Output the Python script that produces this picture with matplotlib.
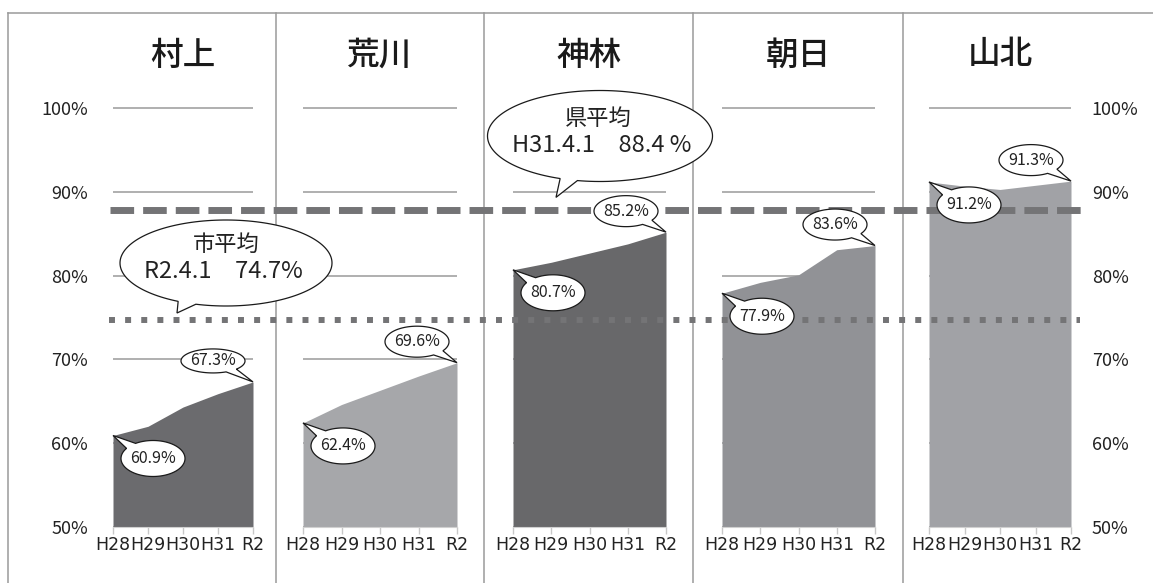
import numpy as np
import matplotlib
matplotlib.use('Agg')
import matplotlib.pyplot as plt
from matplotlib.patches import Polygon

plt.rcParams['font.family'] = ['Noto Sans CJK JP', 'DejaVu Sans']

# data
areas = ['村上', '荒川', '神林', '朝日', '山北']
years = ['H28', 'H29', 'H30', 'H31', 'R2']
murakami = [60.9, 62.0, 64.3, 65.9, 67.3]
arakawa = [62.4, 64.6, 66.3, 68.0, 69.6]
kamihayashi = [80.7, 81.6, 82.7, 83.8, 85.2]
asahi = [77.9, 79.2, 80.1, 83.1, 83.6]
sanpoku = [91.2, 90.7, 90.3, 90.8, 91.3]
series = [murakami, arakawa, kamihayashi, asahi, sanpoku]
yticks = [50, 60, 70, 80, 90, 100]
ylabels = ['50%', '60%', '70%', '80%', '90%', '100%']
city_avg = 74.7       # 市平均 R2.4.1
pref_avg = 88.4       # 県平均 H31.4.1 (label)
pref_line = 87.8      # where the dashed line sits in the picture

colors = ['#6b6b6e', '#a6a7aa', '#68686a', '#919296', '#a1a2a6']

W, H = 1153, 583
fig = plt.figure(figsize=(W / 100, H / 100), dpi=100)

# background frame
bg = fig.add_axes([0, 0, 1, 1], zorder=0)
bg.set_xlim(0, W)
bg.set_ylim(H, 0)
bg.axis('off')
bg.plot([8, W], [13, 13], color='#9a9a9a', lw=1.1)
for xd in [8, 276, 484, 693, 903]:
    bg.plot([xd, xd], [13, H], color='#9a9a9a', lw=1.1)

# panels (pixel edges)
p_left = [113, 303, 513, 722, 929]
p_right = [253, 457, 666, 875, 1071]
y_base, y_top = 526.7, 108.3
px_per = (y_base - y_top) / 50.0
top_lim = 101

axes = []
for i in range(5):
    l, r = p_left[i], p_right[i]
    top_px = y_base - (top_lim - 50) * px_per
    ax = fig.add_axes([l / W, (H - y_base) / H, (r - l) / W, (y_base - top_px) / H], zorder=1)
    ax.set_facecolor('none')
    ax.fill_between(range(5), series[i], 50, color=colors[i], lw=0, zorder=2)
    ax.set_xlim(0, 4)
    ax.set_ylim(50, top_lim)
    ax.set_yticks(yticks)
    ax.set_yticklabels(ylabels, fontsize=13, color='#222222')
    ax.yaxis.grid(True, color='#9a9a9a', lw=1.1)
    ax.set_axisbelow(True)
    ax.set_xticks(range(5))
    ax.set_xticklabels(years, fontsize=12.5, color='#222222',
                       family=['Liberation Sans Narrow', 'DejaVu Sans'])
    ax.tick_params(axis='x', length=5, width=1, color='#c8c8c8', pad=2)
    for s in ['top', 'left', 'right']:
        ax.spines[s].set_visible(False)
    ax.spines['bottom'].set_color('#d0d0d0')
    if i == 0:
        ax.tick_params(axis='y', length=0, pad=18)
    elif i == 4:
        ax.yaxis.tick_right()
        ax.tick_params(axis='y', length=0, pad=15)
    else:
        ax.tick_params(axis='y', length=0, labelleft=False)
    fig.text((l + r) / 2 / W, 1 - 55 / H, areas[i], fontsize=23.5, fontweight='medium',
             ha='center', va='center', color='#1a1a1a')
    axes.append(ax)

# overlay in pixel coords
ov = fig.add_axes([0, 0, 1, 1], zorder=5)
ov.set_xlim(0, W)
ov.set_ylim(H, 0)
ov.axis('off')


def to_px(ax, x, y):
    dx, dy = ax.transData.transform((x, y))
    return dx, H - dy


def bubble(tip, center, w, h, text, fs, spread=0.2):
    cx, cy = center
    tx, ty = tip
    phi = np.arctan2((ty - cy) / (h / 2), (tx - cx) / (w / 2))
    t = np.linspace(phi + spread, phi + 2 * np.pi - spread, 160)
    pts = np.column_stack([cx + w / 2 * np.cos(t), cy + h / 2 * np.sin(t)])
    pts = np.vstack([pts, [tx, ty]])
    ov.add_patch(Polygon(pts, closed=True, fc='white', ec='#1a1a1a', lw=0.9, zorder=3))
    if text:
        ov.text(cx, cy, text, fontsize=fs, ha='center', va='center', color='#222222', zorder=4)


# average lines
y_pref = to_px(axes[0], 0, pref_line)[1]
y_city = to_px(axes[0], 0, city_avg)[1]
ov.plot([110, 1081], [y_pref, y_pref], color='#747476', lw=5.0,
        dashes=(3.4, 1.3), solid_capstyle='butt', dash_capstyle='butt', zorder=1)
ov.plot([109, 1080], [y_city, y_city], color='#747476', lw=4.3,
        dashes=(1, 1.7), dash_capstyle='butt', zorder=1)

# value bubbles
for i in range(5):
    ax = axes[i]
    x0, y0 = to_px(ax, 0, series[i][0])
    x1, y1 = to_px(ax, 4, series[i][-1])
    bubble((x0, y0), (x0 + 40, y0 + 23), 64, 36, f'{series[i][0]:.1f}%', 11.5)
    h_end = 24 if i == 0 else 31
    bubble((x1, y1), (x1 - 40, y1 - 21), 64, h_end, f'{series[i][-1]:.1f}%', 11.5)

# average callouts
bubble((177, y_city - 7), (226, 263), 212, 86, None, 16, spread=0.09)
ov.text(226, 244, '市平均', fontsize=16, ha='center', va='center', color='#222222', zorder=4)
ov.text(223, 272, f'R2.4.1\u3000{city_avg}%', fontsize=17, ha='center', va='center',
        color='#222222', zorder=4)

bubble((556, y_pref - 13), (600, 136), 225, 91, None, 16, spread=0.08)
ov.text(598, 118, '県平均', fontsize=16, ha='center', va='center', color='#222222', zorder=4)
ov.text(602, 146, f'H31.4.1\u3000{pref_avg} %', fontsize=17, ha='center', va='center',
        color='#222222', zorder=4)

plt.savefig('out.png', dpi=100)
